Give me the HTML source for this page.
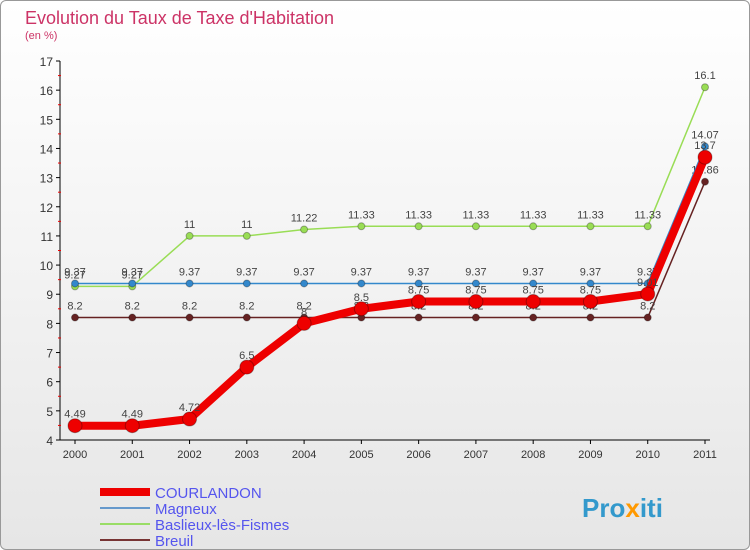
<!DOCTYPE html>
<html><head><meta charset="utf-8"><style>
body{margin:0;width:750px;height:550px;overflow:hidden;font-family:"Liberation Sans",sans-serif}
#c{position:absolute;left:0;top:0;width:748px;height:548px;border:1px solid #999;border-radius:6px;background:linear-gradient(#fff,#e6e6e6)}
</style></head><body>
<div id="c"></div>
<svg id="s" width="750" height="550" style="position:absolute;left:0;top:0" font-family="Liberation Sans, sans-serif">
<text x="25" y="24" font-size="18" fill="#cc3366">Evolution du Taux de Taxe d'Habitation</text>
<text x="25" y="39" font-size="11" fill="#cc3366">(en %)</text>
<text x="155" y="498" font-size="15" fill="#5555ee">COURLANDON</text>
<text x="155" y="514" font-size="15" fill="#5555ee">Magneux</text>
<text x="155" y="530" font-size="15" fill="#5555ee">Baslieux-lès-Fismes</text>
<text x="155" y="546" font-size="15" fill="#5555ee">Breuil</text>
<line x1="100" y1="492" x2="150" y2="492" stroke="#ee0000" stroke-width="8"/>
<line x1="100" y1="508" x2="150" y2="508" stroke="#6699cc" stroke-width="2"/>
<line x1="100" y1="524" x2="150" y2="524" stroke="#99dd66" stroke-width="2"/>
<line x1="100" y1="540" x2="150" y2="540" stroke="#773333" stroke-width="2"/>
<text x="582" y="517" font-size="26" font-weight="bold" fill="#3399cc">Pro<tspan fill="#ff9900">x</tspan>iti</text>
</svg>
<script>
const years=[2000,2001,2002,2003,2004,2005,2006,2007,2008,2009,2010,2011];
const yTicks=[4,5,6,7,8,9,10,11,12,13,14,15,16,17];
const courlandon=[4.49,4.49,4.72,6.5,8,8.5,8.75,8.75,8.75,8.75,9.01,13.7];
const magneux=[9.37,9.37,9.37,9.37,9.37,9.37,9.37,9.37,9.37,9.37,9.37,14.07];
const baslieux=[9.27,9.27,11,11,11.22,11.33,11.33,11.33,11.33,11.33,11.33,16.1];
const breuil=[8.2,8.2,8.2,8.2,8.2,8.2,8.2,8.2,8.2,8.2,8.2,12.86];
const s=document.getElementById('s');const NS='http://www.w3.org/2000/svg';
const X=i=>75+i*(630/11);const Y=v=>440-(v-4)*(379/13);
function mk(t,a){const e=document.createElementNS(NS,t);for(const k in a)e.setAttribute(k,a[k]);s.appendChild(e);return e;}
let ax=mk('line',{x1:60,y1:Y(17),x2:60,y2:440,stroke:'#000'});


let bx=mk('line',{x1:60,y1:440,x2:710,y2:440,stroke:'#000'});


yTicks.forEach(v=>{mk('line',{x1:56,y1:Y(v),x2:60,y2:Y(v),stroke:'#000'});
if(v<17)mk('line',{x1:58,y1:Y(v+0.5),x2:61,y2:Y(v+0.5),stroke:'#e00'});
const t=mk('text',{x:53,y:Y(v)+5,'font-size':12,'text-anchor':'end',fill:'#333'});t.textContent=v;

});
years.forEach((y,i)=>{mk('line',{x1:X(i),y1:440,x2:X(i),y2:444,stroke:'#000'});
const t=mk('text',{x:X(i),y:458,'font-size':11,'text-anchor':'middle',fill:'#333'});t.textContent=y;

});
function series(d,col,w,r,name){
const p=mk('polyline',{points:d.map((v,i)=>X(i)+','+Y(v)).join(' '),fill:'none',stroke:col,'stroke-width':w,'stroke-linejoin':'round'});


d.forEach((v,i)=>{const c=mk('circle',{cx:X(i),cy:Y(v),r:r,fill:col,stroke:'rgba(0,0,0,0.3)'});


const t=mk('text',{x:X(i),y:Y(v)-8,'font-size':11,'text-anchor':'middle',fill:'#444'});t.textContent=v;

});}
series(breuil,'#662222',1.5,3.5,'breuil');
series(baslieux,'#99dd55',1.5,3.5,'baslieux');
series(magneux,'#3388cc',1.5,3.5,'magneux');
series(courlandon,'#ee0000',8,7,'courlandon');
</script>
</body></html>
